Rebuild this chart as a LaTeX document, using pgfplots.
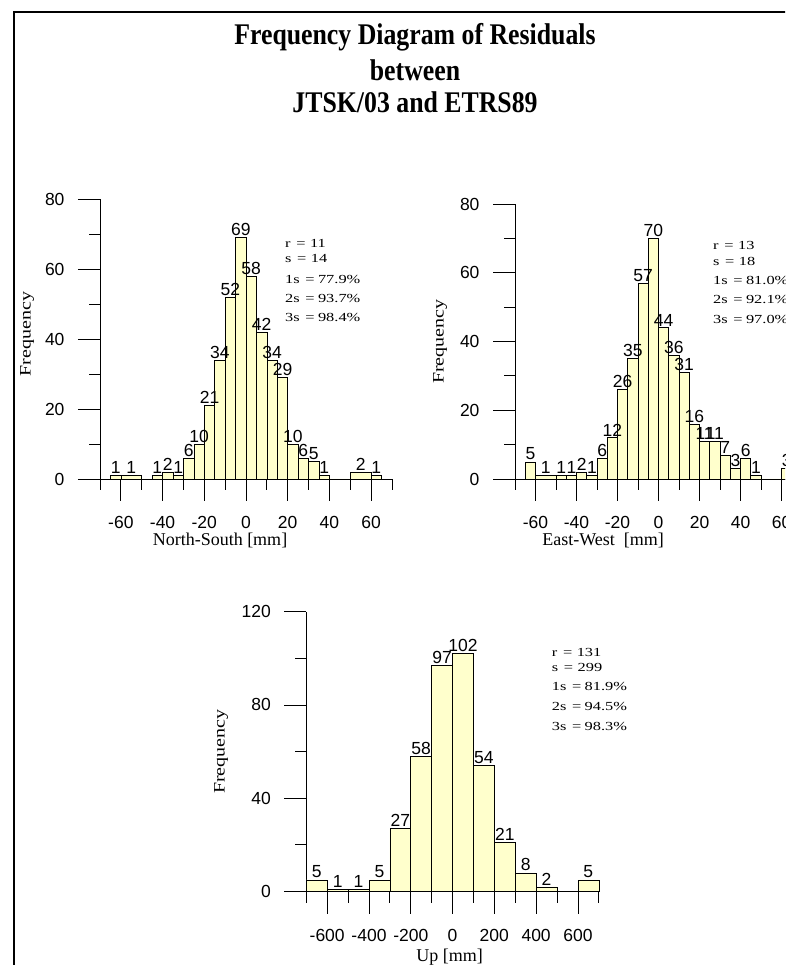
\documentclass[border=0pt]{standalone}
\usepackage{fontspec}
\setmainfont{Liberation Serif}
\newfontfamily\sansf{Liberation Sans}
\usepackage{pgfplots}
\pgfplotsset{compat=1.18}
\definecolor{barfill}{HTML}{FFFFCC}
\newcommand\tickfont{\sansf\fontsize{17.5}{20}\selectfont}
\newcommand\statfont{\rmfamily\fontsize{14.5}{16}\selectfont}
\newcommand\st[1]{\scalebox{1.13}[0.85]{\statfont #1}}
\newcommand\titleline[1]{\scalebox{0.86}[1]{\rmfamily\bfseries\fontsize{30}{34}\selectfont #1}}
\newcommand\ylab{\scalebox{1.25}[1]{Frequency}}

\pgfplotstableread{
x y
-65 1
-60 1
-50 0
-45 1
-40 2
-35 1
-30 6
-25 10
-20 21
-15 34
-10 52
-5 69
0 58
5 42
10 34
15 29
20 10
25 6
30 5
35 1
40 0
50 2
60 1
65 1
}\nsbars
\pgfplotstableread{
x y
-62.5 1
-55 1
-42.5 1
-37.5 2
-32.5 1
-27.5 6
-22.5 10
-17.5 21
-12.5 34
-7.5 52
-2.5 69
2.5 58
7.5 42
12.5 34
17.5 29
22.5 10
27.5 6
32.5 5
37.5 1
55 2
62.5 1
}\nslab

\pgfplotstableread{
x y
-65 5
-60 1
-50 1
-45 1
-40 2
-35 1
-30 6
-25 12
-20 26
-15 35
-10 57
-5 70
0 44
5 36
10 31
15 16
20 11
25 11
30 7
35 3
40 6
45 1
50 0
60 3
65 3
}\ewbars
\pgfplotstableread{
x y
-62.5 5
-55 1
-47.5 1
-42.5 1
-37.5 2
-32.5 1
-27.5 6
-22.5 12
-17.5 26
-12.5 35
-7.5 57
-2.5 70
2.5 44
7.5 36
12.5 31
17.5 16
22.5 11
27.5 11
32.5 7
37.5 3
42.5 6
47.5 1
62.5 3
}\ewlab

\pgfplotstableread{
x y
-700 5
-600 1
-500 1
-400 5
-300 27
-200 58
-100 97
0 102
100 54
200 21
300 8
400 2
500 0
600 5
700 5
}\upbars
\pgfplotstableread{
x y
-650 5
-550 1
-450 1
-350 5
-250 27
-150 58
-50 97
50 102
150 54
250 21
350 8
450 2
650 5
}\uplab

\pgfplotsset{
  hist/.style={
    scale only axis,
    anchor=south west,
    axis x line=bottom,
    axis y line=left,
    axis line style={-, line width=0.8pt, black},
    tick align=outside,
    major tick length=22pt,
    minor tick length=11pt,
    every tick/.style={line width=0.8pt, black},
    ticklabel style={font=\tickfont},
    xticklabel style={yshift=-12pt},
    yticklabel style={xshift=-10pt},
    /pgf/number format/assume math mode=true,
    ymin=0,
    clip=false,
    xlabel style={font=\rmfamily\fontsize{18}{20}\selectfont, anchor=center},
    ylabel style={font=\rmfamily\fontsize{16}{18}\selectfont, anchor=center},
  },
  bars/.style={ybar interval, fill=barfill, draw=black, line width=0.6pt},
  labs/.style={draw=none, mark=none, nodes near coords, point meta=y,
    nodes near coords style={font=\tickfont, anchor=south, inner sep=0pt, yshift=1.5pt}},
}

\begin{document}
\begin{tikzpicture}[x=1pt,y=1pt]
\path[use as bounding box] (0,0) rectangle (785,965);
\begin{scope}
\clip (0,0) rectangle (785,965);
\draw[line width=2pt] (14,-5) -- (14,953) -- (800,953);

\node at (415,928) {\titleline{Frequency Diagram of Residuals}};
\node at (415,895) {\titleline{between}};
\node at (415,863) {\titleline{JTSK/03 and ETRS89}};

% North-South
\begin{axis}[hist, at={(100pt,486pt)}, width=292pt, height=280pt,
  xmin=-70, xmax=70, ymax=80,
  xtick={-60,-40,-20,0,20,40,60}, minor xtick={-70,-50,-30,-10,10,30,50,70},
  ytick={0,20,40,60,80}, minor ytick={10,30,50,70},
  xlabel={North-South [mm]}, ylabel={\ylab},
  xlabel style={at={(axis description cs:0.411,-0.218)}},
  ylabel style={at={(axis description cs:-0.25,0.518)}}]
\addplot[bars] table {\nsbars};
\addplot[labs] table {\nslab};
\end{axis}
\node[anchor=west, inner sep=0pt] at (285,722) {\st{r\hspace{5pt}=\hspace{4pt}11}};
\node[anchor=west, inner sep=0pt] at (285,706) {\st{s\hspace{5pt}=\hspace{4pt}14}};
\node[anchor=west, inner sep=0pt] at (285,685) {\st{1s\hspace{5pt}=\hspace{3pt}77.9\%}};
\node[anchor=west, inner sep=0pt] at (285,666) {\st{2s\hspace{5pt}=\hspace{3pt}93.7\%}};
\node[anchor=west, inner sep=0pt] at (285,647) {\st{3s\hspace{5pt}=\hspace{3pt}98.4\%}};

% East-West
\begin{axis}[hist, at={(515pt,486pt)}, width=287pt, height=275pt,
  xmin=-70, xmax=70, ymax=80,
  xtick={-60,-40,-20,0,20,40,60}, minor xtick={-70,-50,-30,-10,10,30,50,70},
  ytick={0,20,40,60,80}, minor ytick={10,30,50,70},
  xlabel={East-West\ \ [mm]}, ylabel={\ylab},
  xlabel style={at={(axis description cs:0.307,-0.222)}},
  ylabel style={at={(axis description cs:-0.261,0.499)}}]
\addplot[bars] table {\ewbars};
\addplot[labs] table {\ewlab};
\end{axis}
\node[anchor=west, inner sep=0pt] at (713,720) {\st{r\hspace{5pt}=\hspace{4pt}13}};
\node[anchor=west, inner sep=0pt] at (713,703.3) {\st{s\hspace{5pt}=\hspace{4pt}18}};
\node[anchor=west, inner sep=0pt] at (713,684) {\st{1s\hspace{5pt}=\hspace{3pt}81.0\%}};
\node[anchor=west, inner sep=0pt] at (713,665) {\st{2s\hspace{5pt}=\hspace{3pt}92.1\%}};
\node[anchor=west, inner sep=0pt] at (713,645.7) {\st{3s\hspace{5pt}=\hspace{3pt}97.0\%}};

% Up
\begin{axis}[hist, at={(306.3pt,73.5pt)}, width=292.5pt, height=279.8pt,
  xmin=-700, xmax=700, ymax=120,
  xtick={-600,-400,-200,0,200,400,600}, minor xtick={-700,-500,-300,-100,100,300,500,700},
  ytick={0,40,80,120}, minor ytick={20,60,100},
  xlabel={Up [mm]}, ylabel={\ylab},
  xlabel style={at={(axis description cs:0.4896,-0.233)}},
  ylabel style={at={(axis description cs:-0.2916,0.4996)}}]
\addplot[bars] table {\upbars};
\addplot[labs] table {\uplab};
\end{axis}
\node[anchor=west, inner sep=0pt] at (551.7,312.7) {\st{r\hspace{5pt}=\hspace{4pt}131}};
\node[anchor=west, inner sep=0pt] at (551.7,297.7) {\st{s\hspace{5pt}=\hspace{4pt}299}};
\node[anchor=west, inner sep=0pt] at (551.7,279) {\st{1s\hspace{5pt}=\hspace{3pt}81.9\%}};
\node[anchor=west, inner sep=0pt] at (551.7,258.3) {\st{2s\hspace{5pt}=\hspace{3pt}94.5\%}};
\node[anchor=west, inner sep=0pt] at (551.7,238.3) {\st{3s\hspace{5pt}=\hspace{3pt}98.3\%}};
\end{scope}
\end{tikzpicture}
\end{document}
